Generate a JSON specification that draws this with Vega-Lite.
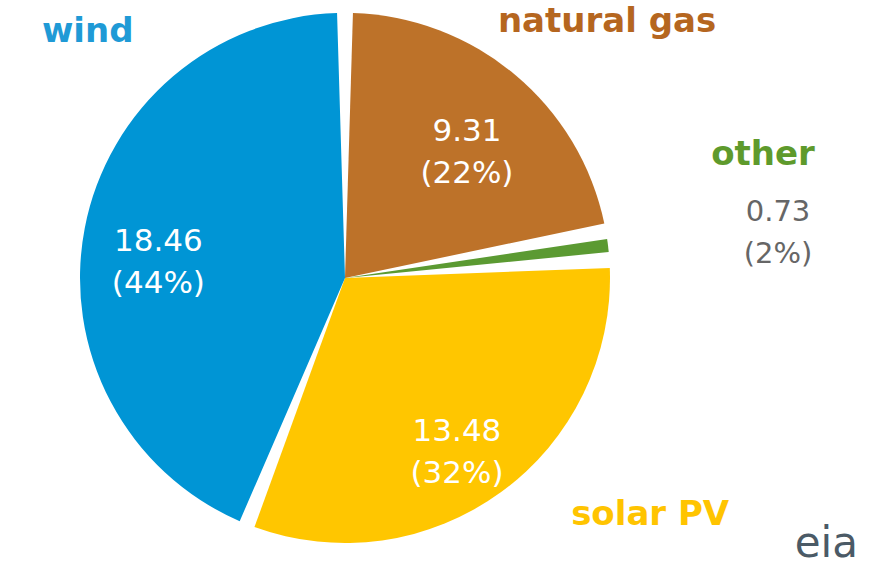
{
  "$schema": "https://vega.github.io/schema/vega-lite/v6.json",
  "width": 690,
  "height": 556,
  "autosize": {"type": "none"},
  "padding": {"left": 0, "top": 0, "right": 196, "bottom": 13},
  "background": "white",
  "view": {"stroke": null},
  "title": {
    "text": "eia",
    "orient": "bottom",
    "anchor": "end",
    "frame": "group",
    "offset": 0,
    "baseline": "alphabetic",
    "dy": 1,
    "dx": 168,
    "font": "DejaVu Sans",
    "fontSize": 42,
    "fontWeight": "normal",
    "color": "#4b5a66"
  },
  "data": {
    "values": [
      {"category": "natural gas", "value": 9.31, "label": "9.31\n(22%)"},
      {"category": "other", "value": 0.73, "label": "0.73\n(2%)"},
      {"category": "solar PV", "value": 13.48, "label": "13.48\n(32%)"},
      {"category": "wind", "value": 18.46, "label": "18.46\n(44%)"}
    ]
  },
  "encoding": {
    "theta": {"field": "value", "type": "quantitative", "stack": true},
    "order": {"field": "category", "type": "nominal", "sort": "ascending"},
    "color": {
      "field": "category",
      "type": "nominal",
      "scale": {
        "domain": ["natural gas", "other", "solar PV", "wind"],
        "range": ["#bd7229", "#5b9a32", "#ffc600", "#0095d5"]
      },
      "legend": null
    }
  },
  "layer": [
    {"mark": {"type": "arc", "outerRadius": 265, "padAngle": 0.06}},
    {
      "mark": {"type": "text", "radius": 190, "font": "DejaVu Sans", "fontSize": 31, "lineBreak": "\n", "lineHeight": 42, "align": "center", "baseline": "middle"},
      "encoding": {
        "detail": {"field": "category"},
        "color": {"value": "white"},
        "text": {"condition": {"test": "datum.category !== 'other'", "field": "label"}, "value": ""}
      }
    },
    {
      "mark": {"type": "text", "radius": 265, "dx": 92, "dy": -53, "font": "DejaVu Sans", "fontWeight": "bold", "fontSize": 34, "align": "center", "baseline": "middle"},
      "encoding": {
        "detail": {"field": "category"},
        "color": {"value": "#b5661f"},
        "text": {"condition": {"test": "datum.category === 'natural gas'", "field": "category"}, "value": ""}
      }
    },
    {
      "mark": {"type": "text", "radius": 265, "dx": 155, "dy": -91, "font": "DejaVu Sans", "fontWeight": "bold", "fontSize": 34, "align": "center", "baseline": "middle"},
      "encoding": {
        "detail": {"field": "category"},
        "color": {"value": "#5e9a2c"},
        "text": {"condition": {"test": "datum.category === 'other'", "field": "category"}, "value": ""}
      }
    },
    {
      "mark": {"type": "text", "radius": 265, "dx": 170, "dy": -34, "font": "DejaVu Sans", "fontSize": 29, "lineBreak": "\n", "lineHeight": 42, "align": "center", "baseline": "middle"},
      "encoding": {
        "detail": {"field": "category"},
        "color": {"value": "#666666"},
        "text": {"condition": {"test": "datum.category === 'other'", "field": "label"}, "value": ""}
      }
    },
    {
      "mark": {"type": "text", "radius": 265, "dx": 149, "dy": 23, "font": "DejaVu Sans", "fontWeight": "bold", "fontSize": 34, "align": "center", "baseline": "middle"},
      "encoding": {
        "detail": {"field": "category"},
        "color": {"value": "#ffc400"},
        "text": {"condition": {"test": "datum.category === 'solar PV'", "field": "category"}, "value": ""}
      }
    },
    {
      "mark": {"type": "text", "radius": 265, "dx": 3, "dy": -196, "font": "DejaVu Sans", "fontWeight": "bold", "fontSize": 34, "align": "center", "baseline": "middle"},
      "encoding": {
        "detail": {"field": "category"},
        "color": {"value": "#1f9ad6"},
        "text": {"condition": {"test": "datum.category === 'wind'", "field": "category"}, "value": ""}
      }
    }
  ]
}
